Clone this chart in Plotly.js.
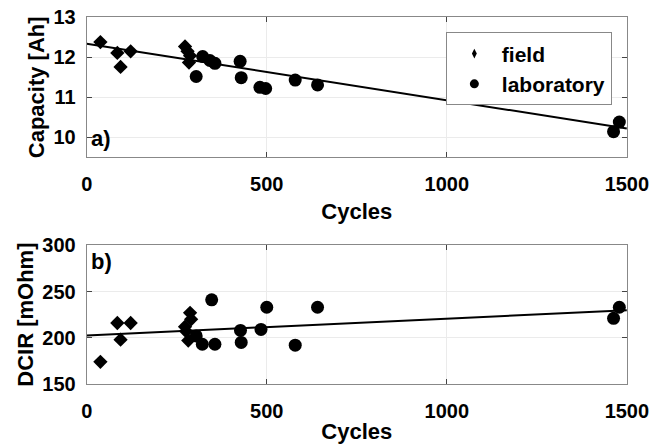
<!DOCTYPE html>
<html>
<head>
<meta charset="utf-8">
<script src="https://cdn.plot.ly/plotly-3.0.1.min.js"></script>
<style>html,body{margin:0;padding:0;background:#fff;}#chart{width:653px;height:444px;}</style>
</head>
<body>
<div id="chart"></div>
<script>
// Capacity (top panel)
const fieldCapCycles = [38, 85, 94, 122, 273, 280, 287, 284];
const fieldCap       = [12.38, 12.11, 11.76, 12.15, 12.27, 12.15, 12.04, 11.87];
const labCapCycles   = [304, 322, 342, 356, 426, 429, 481, 497, 579, 641, 1463, 1479];
const labCap         = [11.52, 12.02, 11.92, 11.85, 11.90, 11.49, 11.25, 11.22, 11.43, 11.31, 10.14, 10.38];
const capFitCycles   = [0, 1500];
const capFit         = [12.34, 10.22];

// DCIR (bottom panel)
const fieldDcirCycles = [38, 85, 94, 122, 273, 276, 282, 287, 290];
const fieldDcir       = [174, 216, 198, 216, 212, 207, 197, 227, 220];
const labDcirCycles   = [304, 321, 347, 356, 427, 429, 484, 500, 579, 641, 1463, 1479];
const labDcir         = [202, 193, 241, 193, 208, 195, 209, 233, 192, 233, 221, 233];
const dcirFitCycles   = [0, 1500];
const dcirFit         = [202.5, 229.7];

const xTicks = [0, 500, 1000, 1500];
const capTicks = [10, 11, 12, 13];
const dcirTicks = [150, 200, 250, 300];
const legendNames = ['field', 'laboratory'];

const FONT = 'Liberation Sans, Arial, Helvetica, sans-serif';
const diamond = {symbol: 'diamond', size: 11, color: '#000'};
const circle = {symbol: 'circle', size: 13, color: '#000'};
const titleFont = {family: FONT, size: 22, color: '#000', weight: 'bold'};

const traces = [
  {x: capFitCycles, y: capFit, mode: 'lines', line: {color: '#000', width: 2}, xaxis: 'x', yaxis: 'y', showlegend: false, hoverinfo: 'skip'},
  {x: fieldCapCycles, y: fieldCap, mode: 'markers', marker: diamond, xaxis: 'x', yaxis: 'y', showlegend: false},
  {x: labCapCycles, y: labCap, mode: 'markers', marker: circle, xaxis: 'x', yaxis: 'y', showlegend: false},
  {x: dcirFitCycles, y: dcirFit, mode: 'lines', line: {color: '#000', width: 2}, xaxis: 'x2', yaxis: 'y2', showlegend: false, hoverinfo: 'skip'},
  {x: fieldDcirCycles, y: fieldDcir, mode: 'markers', marker: diamond, xaxis: 'x2', yaxis: 'y2', showlegend: false},
  {x: labDcirCycles, y: labDcir, mode: 'markers', marker: circle, xaxis: 'x2', yaxis: 'y2', showlegend: false},
  // legend entries
  {x: [null], y: [null], mode: 'markers', name: legendNames[0], marker: {symbol: 'diamond-tall', size: 7, color: '#000'}, xaxis: 'x', yaxis: 'y'},
  {x: [null], y: [null], mode: 'markers', name: legendNames[1], marker: {symbol: 'circle', size: 9, color: '#000'}, xaxis: 'x', yaxis: 'y'}
];

const axCommon = {
  showgrid: true, gridcolor: '#ebebeb', gridwidth: 1,
  showline: true, linecolor: '#888', linewidth: 1, mirror: 'ticks',
  ticks: 'inside', ticklen: 5, tickcolor: '#444',
  zeroline: false,
  tickfont: {family: FONT, size: 20, color: '#000', weight: 'bold'}
};

const layout = {
  width: 653, height: 444,
  margin: {l: 0, r: 0, t: 0, b: 0},
  paper_bgcolor: '#fff', plot_bgcolor: '#fff',
  font: {family: FONT, color: '#000'},
  showlegend: true,
  legend: {
    x: 0.937, y: 0.927, xanchor: 'right', yanchor: 'top',
    bgcolor: '#fff', bordercolor: '#888', borderwidth: 1,
    font: {family: FONT, size: 21, color: '#000', weight: 'bold'},
    itemwidth: 45
  },
  xaxis: Object.assign({}, axCommon, {
    domain: [0.1328, 0.960], range: [0, 1500], tickvals: xTicks, anchor: 'y',
    ticklabelstandoff: 9,
    title: {text: 'Cycles', font: titleFont, standoff: 9}
  }),
  yaxis: Object.assign({}, axCommon, {
    domain: [0.6457, 0.961], range: [9.5, 13], tickvals: capTicks, anchor: 'x',
    ticklabelstandoff: 6,
    title: {text: 'Capacity [Ah]', font: titleFont, standoff: 2}
  }),
  xaxis2: Object.assign({}, axCommon, {
    domain: [0.1328, 0.960], range: [0, 1500], tickvals: xTicks, anchor: 'y2',
    ticklabelstandoff: 9,
    title: {text: 'Cycles', font: titleFont, standoff: 9}
  }),
  yaxis2: Object.assign({}, axCommon, {
    domain: [0.1351, 0.4475], range: [150, 300], tickvals: dcirTicks, anchor: 'x2',
    ticklabelstandoff: 6,
    title: {text: 'DCIR [mOhm]', font: titleFont, standoff: 2}
  }),
  annotations: [
    {text: 'a)', xref: 'x domain', yref: 'y domain', x: 0.005, y: 0.03, xanchor: 'left', yanchor: 'bottom', showarrow: false, font: titleFont},
    {text: 'b)', xref: 'x2 domain', yref: 'y2 domain', x: 0.005, y: 0.99, xanchor: 'left', yanchor: 'top', showarrow: false, font: titleFont}
  ]
};

Plotly.newPlot('chart', traces, layout, {displayModeBar: false, staticPlot: true});
</script>
</body>
</html>
